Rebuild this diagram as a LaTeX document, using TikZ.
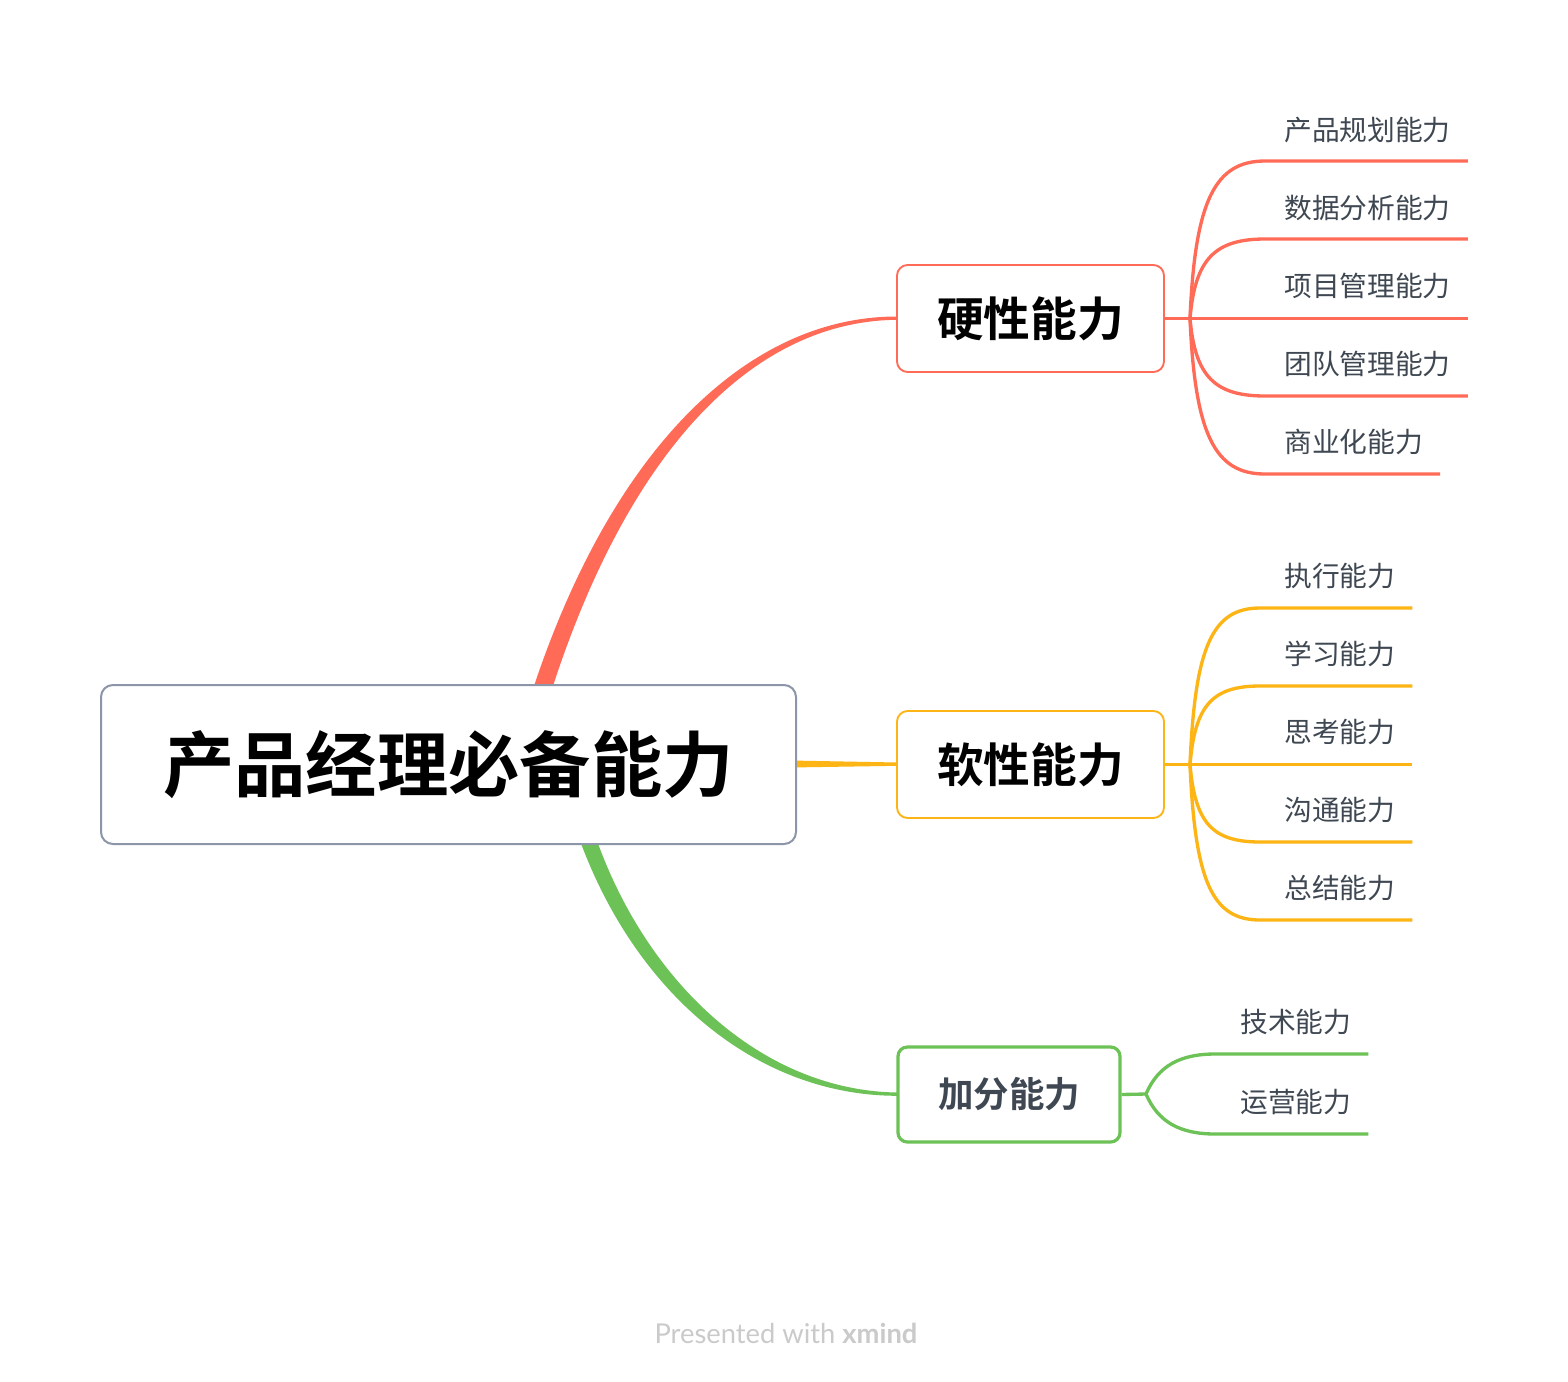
\documentclass[tikz,border=0pt]{standalone}
\usepackage{fontspec}
\usetikzlibrary{calc}
\newfontfamily\cjk[BoldFont={Noto Sans CJK SC Bold}]{Noto Sans CJK SC}
\newfontfamily\latinf{Lato}
\definecolor{redc}{HTML}{FF6B57}
\definecolor{yelc}{HTML}{FDB515}
\definecolor{grnc}{HTML}{6CC257}
\definecolor{rootb}{HTML}{8C96A8}
\definecolor{leaft}{HTML}{3F4852}
\definecolor{foot}{HTML}{CACACA}
\tikzset{
  rootbox/.style={draw=rootb, line width=1.5pt, rounded corners=9pt, fill=white,
    minimum width=521.25pt, minimum height=119.25pt, inner sep=0pt,
    font=\cjk\bfseries\fontsize{53.5}{60}\selectfont},
  mainbox/.style={rounded corners=8pt, fill=white, inner sep=0pt,
    minimum width=200.25pt, minimum height=80.25pt,
    font=\cjk\bfseries\fontsize{35}{40}\selectfont},
  leaf/.style={anchor=west, inner sep=0pt, text=leaft,
    font=\cjk\fontsize{20.8}{24}\selectfont},
  leafline/.style={line width=2.5pt},
}
\begin{document}
\begin{tikzpicture}[x=0.75pt,y=-0.75pt]
\useasboundingbox[fill=white] (0,0) rectangle (1568,1382);

% main node positions
\coordinate (rootc) at (448.5,764.5);
\coordinate (hardc) at (1030.5,318.5);
\coordinate (softc) at (1030.5,764.5);
\coordinate (bonusc) at (1009,1094.5);

% tapered main branches (behind nodes)
\fill[redc] (532,692) .. controls (612,448) and (748,316.5) .. (897,316.5)
   -- (897,319.8) .. controls (752,321) and (628,452) .. (551,692) -- cycle;
\fill[grnc] (579,838) .. controls (636,995) and (758,1096) .. (898,1095.8)
   -- (898,1092.5) .. controls (764,1091) and (648,985) .. (596,838) -- cycle;
\fill[yelc] (790,760.5) -- (898,762.5) -- (898,765.8) -- (790,767.5) -- cycle;

% nodes
\node[rootbox] (root) at (rootc) {产品经理必备能力};
\node[mainbox, draw=redc, line width=1.4pt] (hard) at (hardc) {硬性能力};
\node[mainbox, draw=yelc, line width=1.4pt] (soft) at (softc) {软性能力};
\node[mainbox, draw=grnc, line width=2.4pt, rounded corners=7pt,
  minimum width=166.5pt, minimum height=71.25pt, text=leaft,
  font=\cjk\bfseries\fontsize{26.6}{30}\selectfont] (bonus) at (bonusc) {加分能力};

% junctions
\coordinate (hj) at (1190,318.5);
\coordinate (sj) at (1190,764.5);
\coordinate (bj) at (1146,1094);
\draw[redc, leafline] (hard.east) -- (hj);
\draw[yelc, leafline] (soft.east) -- (sj);
\draw[grnc, leafline] (bonus.east) -- (bj);

% hard leaves
\foreach \n/\txt/\ty/\ly in {1/产品规划能力/130/161,2/数据分析能力/208/239,3/项目管理能力/286/318.5,4/团队管理能力/364/396,5/商业化能力/442/474}{
  \node[leaf] (h\n) at (1284,\ty) {\txt};
  \pgfmathsetmacro\cy{\ly+0.25*(318.5-\ly)}
  \draw[redc, leafline] (hj) .. controls (1195,\cy) and (1215,\ly) .. (1265,\ly)
     -- ($(h\n.east |- 0,\ly)+(17,0)$);
}
% soft leaves
\foreach \n/\txt/\ty/\ly in {1/执行能力/576/608,2/学习能力/654/686,3/思考能力/732/764.5,4/沟通能力/810/842,5/总结能力/888/920}{
  \node[leaf] (s\n) at (1284,\ty) {\txt};
  \pgfmathsetmacro\cy{\ly+0.25*(764.5-\ly)}
  \draw[yelc, leafline] (sj) .. controls (1195,\cy) and (1212,\ly) .. (1260,\ly)
     -- ($(s\n.east |- 0,\ly)+(17,0)$);
}
% bonus leaves
\foreach \n/\txt/\ty/\ly/\cy in {1/技术能力/1022/1054/1066,2/运营能力/1102/1134/1122}{
  \node[leaf] (b\n) at (1240,\ty) {\txt};
  \draw[grnc, leafline] (bj) .. controls (1158,\cy) and (1180,\ly) .. (1215,\ly)
     -- ($(b\n.east |- 0,\ly)+(17,0)$);
}

% footer
\node[text=foot, inner sep=0pt, font=\latinf\fontsize{20.5}{24}\selectfont] (footer) at (786,1333) {Presented with \textbf{xmind}};
\end{tikzpicture}
\end{document}
